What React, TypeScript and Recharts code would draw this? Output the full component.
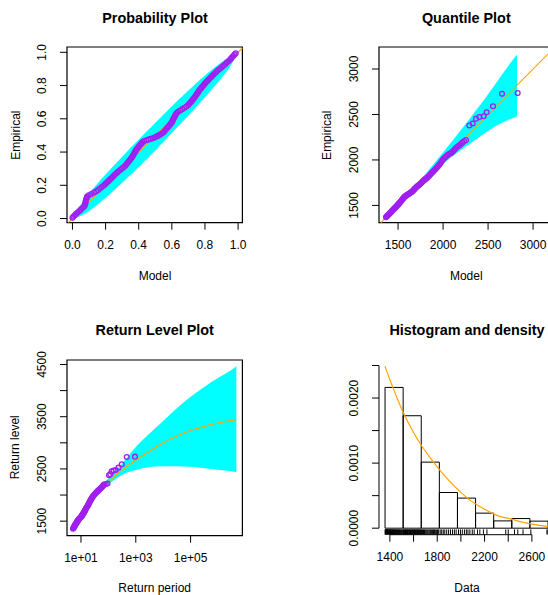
import React from 'react';
import {
  ComposedChart,
  XAxis,
  YAxis,
  Area,
  Line,
  Scatter,
  ReferenceLine,
  ReferenceArea,
} from 'recharts';

const PURPLE = '#A020F0';
const CYAN = '#00FFFF';
const ORANGE = '#FFA500';
const FONT = '"Liberation Sans", Arial, Helvetica, sans-serif';

// ---- Probability plot ----
const probModel = [
  0.0, 0.006, 0.014, 0.022, 0.031, 0.04, 0.049, 0.057, 0.066, 0.073, 0.076, 0.078, 0.079, 0.081, 0.083, 0.086, 0.089, 0.098, 0.113, 0.13,
  0.144, 0.155, 0.165, 0.175, 0.185, 0.195, 0.203, 0.211, 0.22, 0.228, 0.236, 0.244, 0.252, 0.26, 0.269, 0.278, 0.288, 0.298, 0.308, 0.317,
  0.324, 0.33, 0.337, 0.343, 0.35, 0.356, 0.361, 0.366, 0.371, 0.375, 0.38, 0.384, 0.39, 0.397, 0.403, 0.41, 0.417, 0.424, 0.433, 0.447,
  0.46, 0.472, 0.484, 0.495, 0.505, 0.515, 0.525, 0.535, 0.544, 0.552, 0.559, 0.566, 0.573, 0.58, 0.587, 0.593, 0.599, 0.603, 0.607, 0.611,
  0.615, 0.619, 0.624, 0.629, 0.637, 0.65, 0.663, 0.676, 0.688, 0.698, 0.705, 0.712, 0.719, 0.726, 0.732, 0.738, 0.744, 0.749, 0.754, 0.76,
  0.765, 0.771, 0.778, 0.785, 0.791, 0.798, 0.805, 0.812, 0.82, 0.828, 0.836, 0.844, 0.852, 0.86, 0.868, 0.877, 0.886, 0.896, 0.905, 0.914,
  0.923, 0.932, 0.941, 0.95, 0.957, 0.964, 0.971, 0.978, 0.986,
];
const probEmp = [
  0.004, 0.012, 0.02, 0.028, 0.036, 0.044, 0.052, 0.06, 0.068, 0.076, 0.084, 0.092, 0.1, 0.108, 0.116, 0.124, 0.132, 0.14, 0.148, 0.156,
  0.164, 0.172, 0.18, 0.188, 0.196, 0.204, 0.212, 0.22, 0.228, 0.236, 0.244, 0.252, 0.26, 0.268, 0.276, 0.284, 0.292, 0.3, 0.308, 0.316,
  0.324, 0.332, 0.34, 0.348, 0.356, 0.364, 0.372, 0.38, 0.388, 0.396, 0.404, 0.412, 0.42, 0.428, 0.436, 0.444, 0.452, 0.46, 0.466, 0.471,
  0.475, 0.479, 0.483, 0.487, 0.492, 0.497, 0.502, 0.508, 0.514, 0.521, 0.53, 0.538, 0.546, 0.554, 0.562, 0.57, 0.578, 0.586, 0.594, 0.602,
  0.61, 0.618, 0.626, 0.634, 0.642, 0.65, 0.658, 0.666, 0.674, 0.682, 0.69, 0.698, 0.706, 0.714, 0.722, 0.73, 0.738, 0.746, 0.754, 0.762,
  0.77, 0.778, 0.786, 0.794, 0.802, 0.81, 0.818, 0.826, 0.834, 0.842, 0.85, 0.858, 0.866, 0.874, 0.882, 0.89, 0.898, 0.906, 0.914, 0.922,
  0.93, 0.938, 0.946, 0.954, 0.962, 0.97, 0.978, 0.986, 0.994,
];
const probBandX = [0, 0.05, 0.1, 0.2, 0.3, 0.4, 0.5, 0.6, 0.7, 0.8, 0.9, 0.95, 0.975];
const probBandLo = [0, 0.015, 0.045, 0.125, 0.215, 0.31, 0.41, 0.515, 0.62, 0.73, 0.845, 0.91, 0.955];
const probBandHi = [0.012, 0.085, 0.15, 0.265, 0.372, 0.475, 0.575, 0.675, 0.77, 0.86, 0.94, 0.972, 0.985];
const probTicks = [0, 0.2, 0.4, 0.6, 0.8, 1];
const probTickLabels = ['0.0', '0.2', '0.4', '0.6', '0.8', '1.0'];

// ---- Quantile plot ----
const qqModel = [1366, 1372, 1378, 1384, 1390, 1396, 1402, 1408, 1414, 1420, 1426, 1432, 1438, 1444, 1450, 1456, 1462, 1468, 1474, 1480, 1486, 1492, 1498, 1504, 1510, 1517, 1523, 1530, 1536, 1543, 1549, 1556, 1562, 1569, 1576, 1583, 1590, 1597, 1604, 1611, 1618, 1626, 1633, 1641, 1648, 1656, 1663, 1671, 1678, 1686, 1694, 1702, 1710, 1718, 1727, 1736, 1744, 1753, 1762, 1771, 1780, 1790, 1799, 1808, 1818, 1828, 1838, 1848, 1858, 1868, 1879, 1890, 1900, 1911, 1922, 1934, 1945, 1957, 1968, 1980, 1992, 2004, 2017, 2030, 2042, 2055, 2068, 2082, 2095, 2109, 2123, 2137, 2152, 2167, 2182, 2198, 2214, 2234, 2255, 2292, 2329, 2366, 2403, 2451, 2484, 2555, 2655, 2829];
const qqEmp = [1370, 1377, 1383, 1389, 1394, 1400, 1407, 1413, 1419, 1425, 1432, 1438, 1444, 1451, 1457, 1463, 1469, 1476, 1482, 1488, 1494, 1501, 1507, 1514, 1521, 1528, 1535, 1543, 1551, 1559, 1567, 1575, 1583, 1591, 1598, 1603, 1608, 1613, 1617, 1622, 1626, 1631, 1636, 1641, 1646, 1652, 1659, 1667, 1676, 1684, 1692, 1700, 1708, 1714, 1720, 1727, 1735, 1743, 1752, 1761, 1770, 1778, 1786, 1793, 1800, 1809, 1818, 1829, 1840, 1851, 1862, 1873, 1884, 1895, 1906, 1919, 1932, 1946, 1960, 1978, 1996, 2010, 2024, 2035, 2046, 2056, 2066, 2073, 2080, 2094, 2108, 2124, 2140, 2150, 2160, 2175, 2190, 2205, 2220, 2379, 2400, 2453, 2471, 2481, 2525, 2591, 2727, 2735];
const qqBandX = [1360, 1450, 1550, 1650, 1750, 1850, 1950, 2050, 2150, 2250, 2350, 2450, 2550, 2650, 2750, 2822];
const qqBandLo = [1352, 1438, 1532, 1627, 1722, 1815, 1913, 1998, 2073, 2145, 2215, 2285, 2352, 2405, 2450, 2481];
const qqBandHi = [1370, 1462, 1565, 1672, 1782, 1900, 2020, 2145, 2270, 2395, 2525, 2655, 2790, 2930, 3070, 3160];
const qqTicks = [1500, 2000, 2500, 3000];
const qqTickLabels = ['1500', '2000', '2500', '3000'];

// ---- Return level plot ----
const rlPeriod = [5.13, 5.3, 5.5, 5.62, 5.75, 5.9, 6.03, 6.17, 6.31, 6.53, 6.76, 6.92, 7.08, 7.24, 7.41, 7.66, 7.94, 8.2, 8.51, 8.8, 9.12, 9.55, 10.0, 10.3, 10.7, 11.0, 11.2, 11.6, 12.0, 12.3, 12.6, 12.9, 13.2, 13.5, 13.8, 14.1, 14.5, 15.0, 15.5, 16.2, 17.0, 17.6, 18.2, 18.8, 19.5, 20.2, 20.9, 21.6, 22.4, 23.2, 24.0, 25.1, 26.3, 27.5, 28.8, 30.6, 32.4, 34.3, 36.3, 38.9, 41.7, 44.7, 47.9, 51.3, 55.0, 58.2, 61.7, 65.3, 69.2, 80.0, 93.3, 105, 117, 132, 155, 186, 234, 309, 468, 933];
const rlLevel = [1354, 1367, 1380, 1390, 1400, 1410, 1420, 1430, 1440, 1450, 1460, 1470, 1480, 1490, 1500, 1510, 1520, 1530, 1540, 1550, 1560, 1570, 1580, 1590, 1600, 1610, 1620, 1630, 1640, 1650, 1660, 1670, 1680, 1690, 1700, 1710, 1720, 1735, 1750, 1765, 1780, 1795, 1810, 1825, 1840, 1855, 1870, 1885, 1900, 1915, 1930, 1945, 1960, 1975, 1990, 2005, 2020, 2035, 2050, 2065, 2080, 2095, 2110, 2125, 2140, 2155, 2170, 2185, 2200, 2210, 2220, 2379, 2400, 2453, 2471, 2481, 2525, 2591, 2727, 2735];
const rlFitPeriod = [5.13, 10, 20, 39.8, 100, 316, 1000, 3162, 10000, 31623, 100000, 316228, 1000000, 3162278, 4677351];
const rlFitLevel = [1350, 1585, 1860, 2060, 2260, 2480, 2670, 2840, 3000, 3130, 3235, 3315, 3380, 3430, 3445];
const rlBandPeriod = [10, 31.6, 100, 316, 1000, 3162, 10000, 31623, 100000, 316228, 1000000, 3162278, 4677351];
const rlBandLo = [1565, 1960, 2205, 2385, 2480, 2535, 2552, 2552, 2540, 2515, 2485, 2455, 2439];
const rlBandHi = [1605, 2035, 2315, 2600, 2920, 3180, 3420, 3660, 3880, 4070, 4240, 4400, 4464];
const rlXTicks = [10, 1000, 100000];
const rlXTickLabels = ['1e+01', '1e+03', '1e+05'];
const rlYTicks = [1500, 2000, 2500, 3000, 3500, 4000, 4500];
const rlYTickLabels = ['1500', '', '2500', '', '3500', '', '4500'];

// ---- Histogram and density ----
const histBreaks = [1359, 1512, 1665, 1818, 1971, 2124, 2277, 2430, 2583, 2736];
const histDensity = [0.002163, 0.001728, 0.001015, 0.000548, 0.000462, 0.000231, 0.000112, 0.000148, 0.000108];
const densX = [1358, 1400, 1450, 1512, 1600, 1667, 1750, 1819, 1900, 1971, 2050, 2125, 2200, 2277, 2350, 2429, 2500, 2580, 2650, 2732, 2790];
const densY = [0.00249, 0.00228, 0.00205, 0.00178, 0.00147, 0.00127, 0.00106, 0.0009, 0.00073, 0.0006, 0.00047, 0.00037, 0.00029, 0.00022, 0.00017, 0.00014, 0.0001, 0.00007, 0.000048, 0.000028, 0.00002];
const obs = [
  1360, 1362, 1365, 1368, 1371, 1374, 1377, 1380, 1383, 1386, 1389, 1392, 1396, 1399, 1402, 1405, 1409, 1412, 1416, 1419,
  1423, 1427, 1430, 1434, 1438, 1442, 1446, 1450, 1455, 1459, 1463, 1468, 1472, 1477, 1482, 1487, 1492, 1497, 1503, 1509,
  1514, 1518, 1523, 1527, 1532, 1536, 1541, 1546, 1550, 1555, 1560, 1565, 1569, 1574, 1579, 1584, 1589, 1594, 1598, 1603,
  1608, 1613, 1618, 1623, 1628, 1633, 1638, 1643, 1648, 1653, 1658, 1663,
  1668, 1676, 1684, 1692, 1699, 1707, 1715, 1722, 1730, 1738, 1745, 1753, 1761, 1769, 1776, 1784, 1795, 1803, 1812,
  1825, 1838, 1851, 1864, 1880, 1896, 1912, 1929, 1945, 1960,
  1980, 1996, 2012, 2030, 2046, 2060, 2076, 2096, 2112,
  2140, 2160, 2190, 2220, 2379, 2400, 2453, 2481, 2525, 2591, 2727, 2735,
];
const histXTicks = [1400, 1600, 1800, 2000, 2200, 2400, 2600];
const histXTickLabels = ['1400', '', '1800', '', '2200', '', '2600'];
const histYTicks = [0, 0.0005, 0.001, 0.0015, 0.002, 0.0025];
const histYTickLabels = ['0.0000', '', '0.0010', '', '0.0020', ''];

// plot boxes on the page
const BOX1 = { x: 67.3, y: 47.3, w: 175.4, h: 175.7 };
const BOX2 = { x: 378.6, y: 47.3, w: 175.4, h: 175.7 };
const BOX3 = { x: 67, y: 359.5, w: 175.4, h: 175.7 };
const BOX4 = { x: 379.3, y: 359.3, w: 175.4, h: 175.7 };

const DOM1X: [number, number] = [-0.033, 1.026];
const DOM1Y: [number, number] = [-0.025, 1.032];
const DOM2X: [number, number] = [1288, 3237];
const DOM2Y: [number, number] = [1310, 3242];
const DOM3X: [number, number] = [3.09, 7.76e6];
const DOM3Y: [number, number] = [1222, 4586];
const DOM4X: [number, number] = [1308, 2790];
const DOM4Y: [number, number] = [-0.0001, 0.0026];

const zip = (xs: number[], ys: number[]) => xs.map((x, i) => ({ x, y: ys[i] }));
const band = (xs: number[], lo: number[], hi: number[]) => xs.map((x, i) => ({ x, r: [lo[i], hi[i]] }));

const probPoints = zip(probModel, probEmp);
const probBand = band(probBandX, probBandLo, probBandHi);
const qqPoints = zip(qqModel, qqEmp);
const qqBand = band(qqBandX, qqBandLo, qqBandHi);
const rlPoints = zip(rlPeriod, rlLevel);
const rlFit = zip(rlFitPeriod, rlFitLevel);
const rlBand = band(rlBandPeriod, rlBandLo, rlBandHi);
const densLine = zip(densX, densY);
const rug = obs.map((v) => ({ x: v, y: DOM4Y[0] }));

const Circle = (p: any) => (
  <circle cx={p.cx} cy={p.cy} r={2.4} fill="none" stroke={PURPLE} strokeWidth={1.3} />
);
const RugTick = (p: any) => (
  <line x1={p.cx} x2={p.cx} y1={p.cy} y2={p.cy - 5.3} stroke="#000" strokeWidth={1} />
);

const makeXTick = (ticks: number[], labels: string[]) => (p: any) => {
  const i = ticks.indexOf(p.payload.value);
  return (
    <text x={p.x} y={p.y} textAnchor="middle" fontSize={12} fontFamily={FONT} fill="#000">
      {i >= 0 ? labels[i] : ''}
    </text>
  );
};
const makeYTick = (ticks: number[], labels: string[]) => (p: any) => {
  const i = ticks.indexOf(p.payload.value);
  return (
    <text
      x={p.x}
      y={p.y}
      transform={`rotate(-90 ${p.x} ${p.y})`}
      textAnchor="middle"
      fontSize={12}
      fontFamily={FONT}
      fill="#000"
    >
      {i >= 0 ? labels[i] : ''}
    </text>
  );
};

const MARGIN = { top: 50, right: 70, bottom: 30, left: 10 };
const chartSize = (b: { w: number; h: number }) => ({ width: b.w + 140, height: b.h + 120 });
const place = (b: { x: number; y: number }): React.CSSProperties => ({
  position: 'absolute',
  left: b.x - 70,
  top: b.y - 50,
});

const xAxisCommon = { type: 'number' as const, dataKey: 'x', height: 40, tickSize: 7, tickMargin: 19.3, axisLine: false, tickLine: { stroke: '#000' }, interval: 0 as const, allowDataOverflow: true };
const yAxisCommon = { type: 'number' as const, dataKey: 'y', width: 60, tickSize: 7, tickMargin: 14, axisLine: false, tickLine: { stroke: '#000' }, interval: 0 as const, allowDataOverflow: true };

const txt = { fontFamily: FONT, fill: '#000' };

export default function App() {
  return (
    <div style={{ position: 'absolute', left: 0, top: 0, width: 548, height: 595, overflow: 'hidden', background: '#fff' }}>
      {/* Probability plot */}
      <div style={place(BOX1)}>
        <ComposedChart {...chartSize(BOX1)} data={probBand} margin={MARGIN}>
          <XAxis {...xAxisCommon} domain={DOM1X} ticks={probTicks} tick={makeXTick(probTicks, probTickLabels)} />
          <YAxis {...yAxisCommon} domain={DOM1Y} ticks={probTicks} tick={makeYTick(probTicks, probTickLabels)} />
          <Area dataKey="r" type="monotone" fill={CYAN} fillOpacity={1} stroke="none" isAnimationActive={false} />
          <ReferenceLine segment={[{ x: -0.025, y: -0.025 }, { x: 1.026, y: 1.026 }]} stroke={ORANGE} strokeWidth={1.1} ifOverflow="visible" />
          <Scatter data={probPoints} dataKey="y" shape={Circle} isAnimationActive={false} />
          <ReferenceArea x1={DOM1X[0]} x2={DOM1X[1]} y1={DOM1Y[0]} y2={DOM1Y[1]} fill="none" stroke="#000" strokeWidth={1.2} ifOverflow="visible" />
        </ComposedChart>
      </div>

      {/* Quantile plot */}
      <div style={place(BOX2)}>
        <ComposedChart {...chartSize(BOX2)} data={qqBand} margin={MARGIN}>
          <XAxis {...xAxisCommon} domain={DOM2X} ticks={qqTicks} tick={makeXTick(qqTicks, qqTickLabels)} />
          <YAxis {...yAxisCommon} domain={DOM2Y} ticks={qqTicks} tick={makeYTick(qqTicks, qqTickLabels)} />
          <Area dataKey="r" type="monotone" fill={CYAN} fillOpacity={1} stroke="none" isAnimationActive={false} />
          <ReferenceLine segment={[{ x: 1310, y: 1310 }, { x: 3237, y: 3237 }]} stroke={ORANGE} strokeWidth={1.1} ifOverflow="visible" />
          <Scatter data={qqPoints} dataKey="y" shape={Circle} isAnimationActive={false} />
          <ReferenceArea x1={DOM2X[0]} x2={DOM2X[1]} y1={DOM2Y[0]} y2={DOM2Y[1]} fill="none" stroke="#000" strokeWidth={1.2} ifOverflow="visible" />
        </ComposedChart>
      </div>

      {/* Return level plot */}
      <div style={place(BOX3)}>
        <ComposedChart {...chartSize(BOX3)} data={rlBand} margin={MARGIN}>
          <XAxis {...xAxisCommon} scale="log" domain={DOM3X} ticks={rlXTicks} tick={makeXTick(rlXTicks, rlXTickLabels)} />
          <YAxis {...yAxisCommon} domain={DOM3Y} ticks={rlYTicks} tick={makeYTick(rlYTicks, rlYTickLabels)} />
          <Area dataKey="r" type="monotone" fill={CYAN} fillOpacity={1} stroke="none" isAnimationActive={false} />
          <Line data={rlFit} dataKey="y" type="monotone" stroke={ORANGE} strokeWidth={1.1} dot={false} isAnimationActive={false} />
          <Scatter data={rlPoints} dataKey="y" shape={Circle} isAnimationActive={false} />
          <ReferenceArea x1={DOM3X[0]} x2={DOM3X[1]} y1={DOM3Y[0]} y2={DOM3Y[1]} fill="none" stroke="#000" strokeWidth={1.2} ifOverflow="visible" />
        </ComposedChart>
      </div>

      {/* Histogram and density */}
      <div style={place(BOX4)}>
        <ComposedChart {...chartSize(BOX4)} margin={MARGIN}>
          <XAxis {...xAxisCommon} domain={DOM4X} ticks={histXTicks} tick={makeXTick(histXTicks, histXTickLabels)} />
          <YAxis {...yAxisCommon} domain={DOM4Y} ticks={histYTicks} tick={makeYTick(histYTicks, histYTickLabels)} />
          {histDensity.map((d, i) => (
            <ReferenceArea
              key={i}
              x1={histBreaks[i]}
              x2={histBreaks[i + 1]}
              y1={0}
              y2={d}
              fill="none"
              stroke="#000"
              strokeWidth={1}
              ifOverflow="visible"
            />
          ))}
          <Line data={densLine} dataKey="y" type="monotone" stroke={ORANGE} strokeWidth={1.2} dot={false} isAnimationActive={false} />
          <Scatter data={rug} dataKey="y" shape={RugTick} isAnimationActive={false} />
          <ReferenceLine segment={[{ x: DOM4X[0], y: 0 }, { x: DOM4X[0], y: 0.0025 }]} stroke="#000" strokeWidth={1} ifOverflow="visible" />
          <ReferenceLine segment={[{ x: 1400, y: DOM4Y[0] }, { x: 2600, y: DOM4Y[0] }]} stroke="#000" strokeWidth={1} ifOverflow="visible" />
        </ComposedChart>
      </div>

      {/* titles and axis titles */}
      <svg width={548} height={595} style={{ position: 'absolute', left: 0, top: 0, pointerEvents: 'none' }}>
        <g {...txt} fontSize={14.4} fontWeight="bold" textAnchor="middle">
          <text x={155} y={23.3}>Probability Plot</text>
          <text x={466.3} y={23.3}>Quantile Plot</text>
          <text x={154.7} y={335.3}>Return Level Plot</text>
          <text x={467} y={335.3}>Histogram and density</text>
        </g>
        <g {...txt} fontSize={12} textAnchor="middle">
          <text x={155} y={280}>Model</text>
          <text x={466.3} y={280}>Model</text>
          <text x={154.7} y={591.5}>Return period</text>
          <text x={467} y={591.5}>Data</text>
          <text x={19.8} y={135.2} transform="rotate(-90 19.8 135.2)">Empirical</text>
          <text x={331.1} y={135.2} transform="rotate(-90 331.1 135.2)">Empirical</text>
          <text x={19.5} y={447.3} transform="rotate(-90 19.5 447.3)">Return level</text>
        </g>
      </svg>
    </div>
  );
}
